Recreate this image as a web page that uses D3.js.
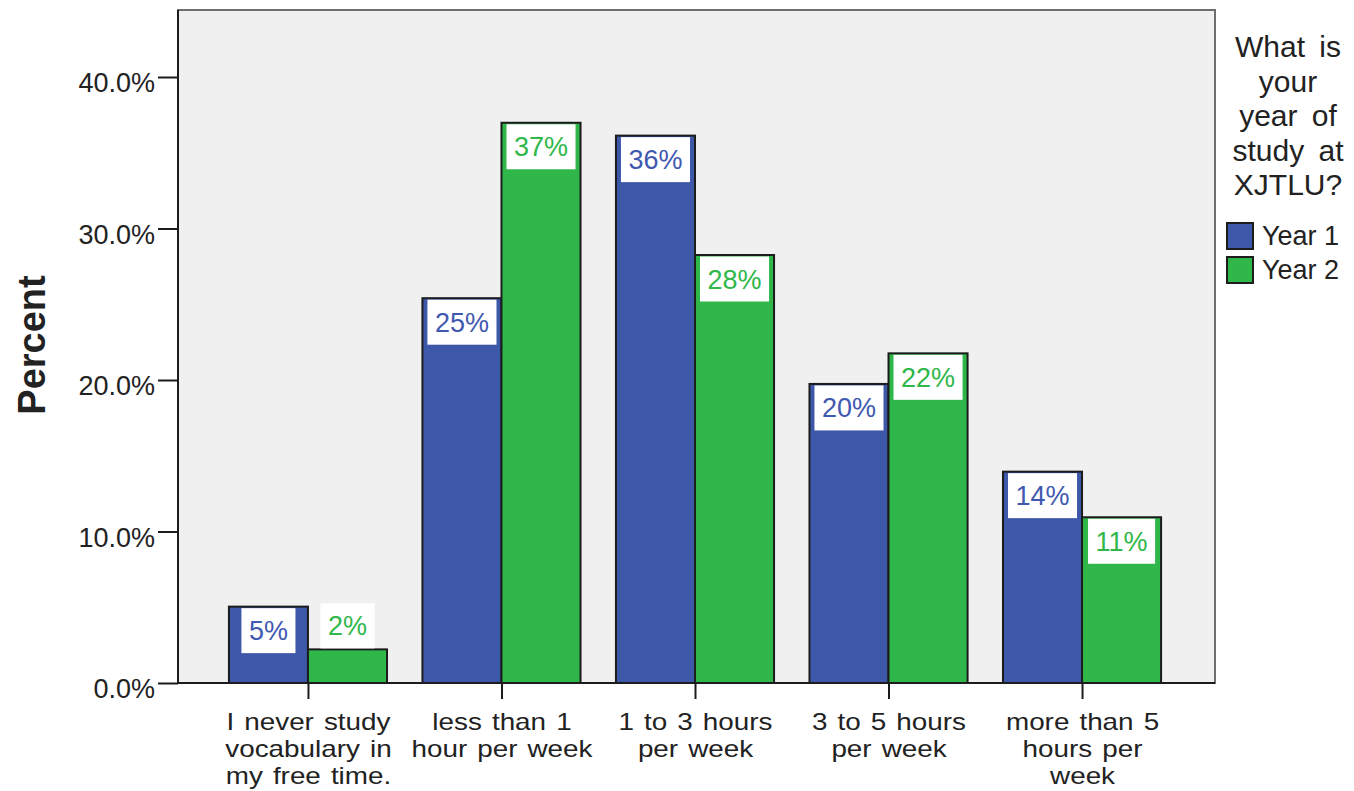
<!DOCTYPE html>
<html>
  <head>
    <meta charset="utf-8">
    <style>
      body { margin: 0; background: #fff; }
      svg { display: block; }
      text { font-family: "Liberation Sans", Arial, sans-serif; fill: #222; }
    </style>
  </head>
  <body>
    <script src="https://cdn.jsdelivr.net/npm/d3@7"></script>
    <script>
    // data
    var categories = ["never", "lt1", "1to3", "3to5", "gt5"];
    var categoryLines = [
      ["I never study", "vocabulary in", "my free time."],
      ["less than 1", "hour per week"],
      ["1 to 3 hours", "per week"],
      ["3 to 5 hours", "per week"],
      ["more than 5", "hours per", "week"]
    ];
    var seriesNames = ["Year 1", "Year 2"];
    var year1 = [5.04, 25.4, 36.13, 19.74, 13.95];
    var year2 = [2.22, 36.98, 28.25, 21.76, 10.94];
    var yTicks = [0, 10, 20, 30, 40];
    var legendTitle = ["What is", "your", "year of", "study at", "XJTLU?"];

    var colors = ["#3d57a9", "#2fb74a"];
    var textColors = ["#3f59b0", "#2fb74a"];

    var W = 1354, H = 791;
    var plot = { left: 178, right: 1215, top: 10, bottom: 683 };

    var svg = d3.select("body").append("svg")
        .attr("width", W)
        .attr("height", H);

    var x = d3.scaleBand()
        .domain(categories)
        .range([plot.left + 33.5, plot.right - 36.5])
        .paddingInner(0.183)
        .paddingOuter(0.09);

    var xSub = d3.scaleBand()
        .domain(seriesNames)
        .range([0, x.bandwidth()]);

    var y = d3.scaleLinear()
        .domain([0, 40])
        .range([plot.bottom, 77]);

    // plot background
    svg.append("rect")
        .attr("x", plot.left)
        .attr("y", plot.top)
        .attr("width", plot.right - plot.left)
        .attr("height", plot.bottom - plot.top)
        .attr("fill", "#f0f0f0")
        .attr("stroke", "#6e6e6e")
        .attr("stroke-width", 2);

    var rows = categories.map(function(c, i) {
      return { cat: c, vals: [year1[i], year2[i]] };
    });

    var groups = svg.append("g").selectAll("g")
      .data(rows)
      .enter().append("g")
        .attr("transform", function(d) { return "translate(" + x(d.cat) + ",0)"; });

    var bars = groups.selectAll("g")
      .data(function(d) {
        return d.vals.map(function(v, j) { return { s: seriesNames[j], j: j, v: v }; });
      })
      .enter().append("g");

    bars.append("rect")
        .attr("x", function(d) { return xSub(d.s); })
        .attr("y", function(d) { return y(d.v); })
        .attr("width", xSub.bandwidth())
        .attr("height", function(d) { return y(0) - y(d.v); })
        .attr("fill", function(d) { return colors[d.j]; })
        .attr("stroke", "#1c1c1c")
        .attr("stroke-width", 2);

    // value labels in white boxes
    bars.each(function(d) {
      var g = d3.select(this);
      var label = Math.round(d.v) + "%";
      var t = g.append("text")
          .attr("font-size", 27)
          .attr("text-anchor", "middle")
          .style("fill", textColors[d.j])
          .text(label);
      var tw = t.node().getComputedTextLength();
      var bw = xSub.bandwidth();
      var boxW = Math.min(tw + 15, bw - 8);
      var boxH = 45;
      var top = y(d.v);
      var boxY = (y(0) - top) > boxH + 5 ? top + 1.5 : top - boxH - 1;
      var cx = xSub(d.s) + bw / 2;
      g.insert("rect", "text")
          .attr("x", cx - boxW / 2)
          .attr("y", boxY)
          .attr("width", boxW)
          .attr("height", boxH)
          .attr("fill", "#fff");
      t.attr("x", cx).attr("y", boxY + 32);
    });

    // y axis
    var yAxis = svg.append("g")
        .attr("transform", "translate(" + plot.left + ",0)")
        .call(d3.axisLeft(y)
          .tickValues(yTicks)
          .tickSize(20)
          .tickPadding(3)
          .tickFormat(function(d) { return d.toFixed(1) + "%"; }));
    yAxis.select(".domain").remove();
    yAxis.selectAll("line").attr("stroke", "#1c1c1c").attr("stroke-width", 2);
    yAxis.selectAll("text")
        .attr("font-size", 27)
        .attr("font-family", null)
        .attr("dy", "0.55em")
        .style("fill", "#222");

    svg.append("line")
        .attr("x1", plot.left).attr("x2", plot.left)
        .attr("y1", plot.top).attr("y2", plot.bottom)
        .attr("stroke", "#1c1c1c").attr("stroke-width", 2);

    // x axis
    var xCenter = d3.scalePoint()
        .domain(categories)
        .range([x(categories[0]) + x.bandwidth() / 2,
                x(categories[categories.length - 1]) + x.bandwidth() / 2]);

    var xAxis = svg.append("g")
        .attr("transform", "translate(0," + plot.bottom + ")")
        .call(d3.axisBottom(xCenter).tickSize(16).tickFormat(""));
    xAxis.select(".domain").remove();
    xAxis.selectAll("line").attr("stroke", "#1c1c1c").attr("stroke-width", 2);
    xAxis.selectAll(".tick").each(function(d, i) {
      var tick = d3.select(this);
      tick.select("text").remove();
      categoryLines[i].forEach(function(line, k) {
        tick.append("text")
            .attr("transform", "translate(0," + (47 + k * 27) + ") scale(1.16,1)")
            .attr("text-anchor", "middle")
            .attr("font-size", 24)
            .style("word-spacing", "2px")
            .style("fill", "#222")
            .text(line);
      });
    });

    svg.append("line")
        .attr("x1", plot.left).attr("x2", plot.right)
        .attr("y1", plot.bottom).attr("y2", plot.bottom)
        .attr("stroke", "#1c1c1c").attr("stroke-width", 2);

    // y title
    svg.append("text")
        .attr("transform", "translate(45,345) rotate(-90)")
        .attr("text-anchor", "middle")
        .attr("font-size", 38)
        .attr("font-weight", "bold")
        .text("Percent");

    // legend
    var legend = svg.append("g");
    legend.selectAll("text.title")
      .data(legendTitle)
      .enter().append("text")
        .attr("class", "title")
        .attr("x", 1288)
        .attr("y", function(d, i) { return 57 + i * 34.5; })
        .attr("text-anchor", "middle")
        .attr("font-size", 30)
        .style("word-spacing", "6px")
        .text(function(d) { return d; });

    var items = legend.selectAll("g.item")
      .data(seriesNames)
      .enter().append("g")
        .attr("class", "item")
        .attr("transform", function(d, i) { return "translate(1227," + (223 + i * 34) + ")"; });
    items.append("rect")
        .attr("width", 26).attr("height", 26)
        .attr("fill", function(d, i) { return colors[i]; })
        .attr("stroke", "#1c1c1c").attr("stroke-width", 2);
    items.append("text")
        .attr("x", 35).attr("y", 22)
        .attr("font-size", 27)
        .text(function(d) { return d; });
    </script>
  </body>
</html>
